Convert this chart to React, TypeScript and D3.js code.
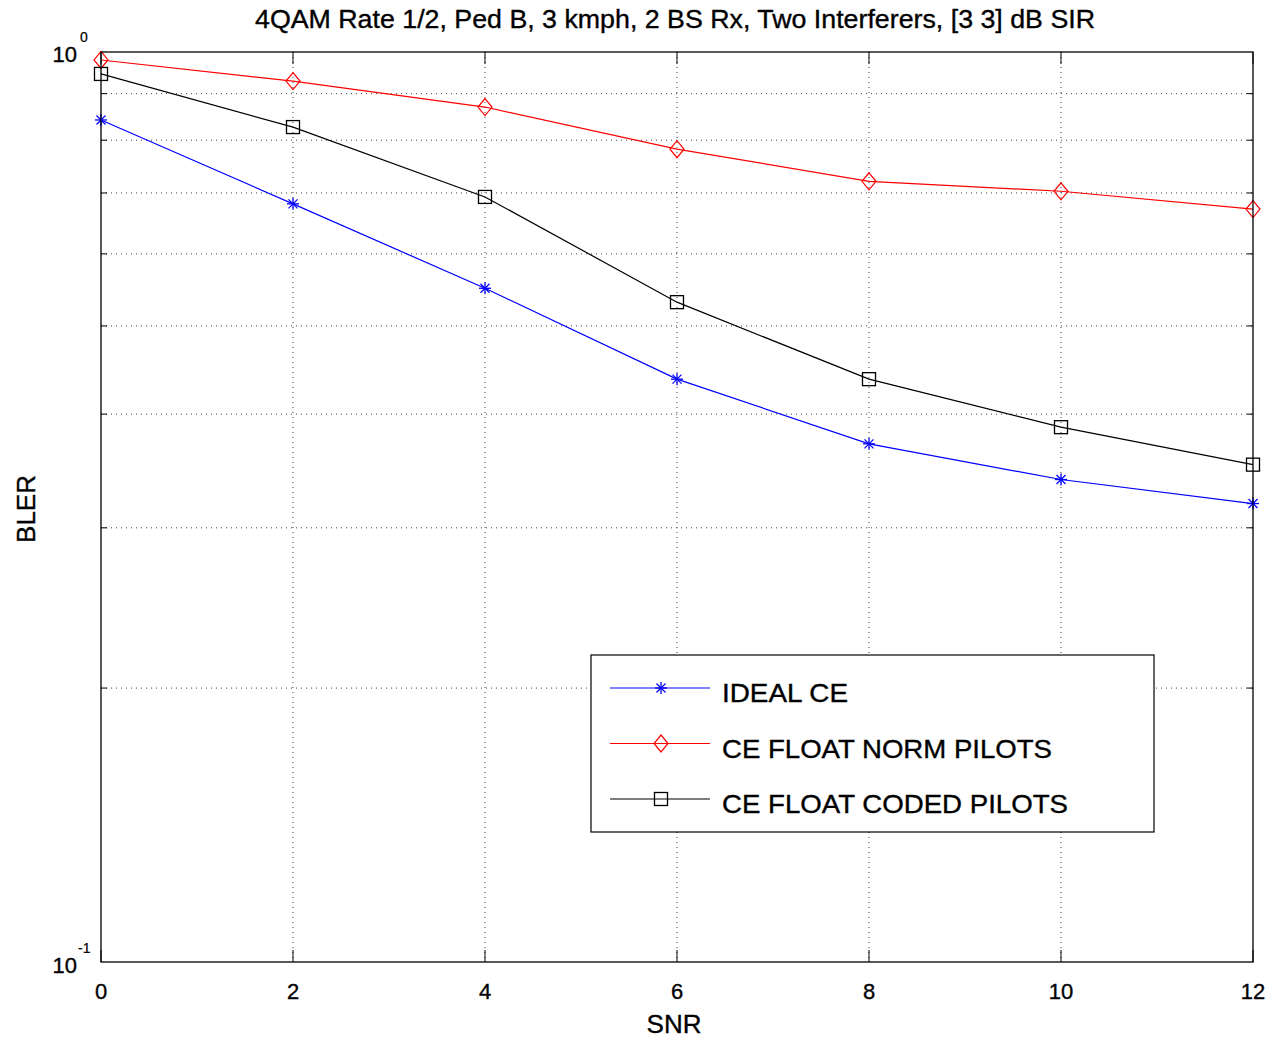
import React from "react";
import * as d3 from "d3";

const snr = [0, 2, 4, 6, 8, 10, 12];
const idealCE = [0.842, 0.681, 0.55, 0.437, 0.371, 0.339, 0.319];
const normPilots = [0.98, 0.929, 0.87, 0.782, 0.721, 0.703, 0.672];
const codedPilots = [0.946, 0.827, 0.693, 0.531, 0.437, 0.387, 0.352];
const xTicks = [0, 2, 4, 6, 8, 10, 12];
const yMinor = [0.2, 0.3, 0.4, 0.5, 0.6, 0.7, 0.8, 0.9];
const seriesNames = ["IDEAL CE", "CE FLOAT NORM PILOTS", "CE FLOAT CODED PILOTS"];
const title = "4QAM Rate 1/2, Ped B, 3 kmph, 2 BS Rx, Two Interferers, [3 3] dB SIR";

const W = 1272, H = 1040;
const L = 101, R = 1253, T = 52, B = 962;
const FONT = "'Liberation Sans', Arial, sans-serif";
const TXT = { fill: "#000", stroke: "#000", strokeWidth: 0.35 };

function Marker({ type, x, y, color }: { type: string; x: number; y: number; color: string }) {
  if (type === "star") {
    const s = 6;
    return (
      <g stroke={color} strokeWidth={1.3}>
        <line x1={x - s} y1={y} x2={x + s} y2={y} />
        <line x1={x} y1={y - s} x2={x} y2={y + s} />
        <line x1={x - s * 0.75} y1={y - s * 0.75} x2={x + s * 0.75} y2={y + s * 0.75} />
        <line x1={x - s * 0.75} y1={y + s * 0.75} x2={x + s * 0.75} y2={y - s * 0.75} />
      </g>
    );
  }
  if (type === "diamond") {
    const sx = 7, sy = 8.5;
    return (
      <path d={`M${x},${y - sy}L${x + sx},${y}L${x},${y + sy}L${x - sx},${y}Z`} fill="none" stroke={color} strokeWidth={1.2} />
    );
  }
  const s = 6.5;
  return <rect x={x - s} y={y - s} width={2 * s} height={2 * s} fill="none" stroke={color} strokeWidth={1.3} />;
}

export default function App() {
  const x = d3.scaleLinear().domain([0, 12]).range([L, R]);
  const y = d3.scaleLog().domain([0.1, 1]).range([B, T]);
  const series = [
    { name: seriesNames[0], values: idealCE, color: "#0000ff", marker: "star", len: 126 },
    { name: seriesNames[1], values: normPilots, color: "#ff0000", marker: "diamond", len: 330 },
    { name: seriesNames[2], values: codedPilots, color: "#000000", marker: "square", len: 346 },
  ];
  const line = d3
    .line<[number, number]>()
    .x((d) => x(d[0]))
    .y((d) => y(d[1]));

  const legX = 591, legY = 655, legW = 563, legH = 177;

  return (
    <svg width={W} height={H} style={{ position: "absolute", left: 0, top: 0, background: "#fff" }} fontFamily={FONT}>
      <rect x={0} y={0} width={W} height={H} fill="#fff" />
      {/* grid */}
      <g stroke="#000" strokeWidth={1} strokeDasharray="1,4" opacity={0.75}>
        {xTicks.slice(1, -1).map((t) => (
          <line key={"gx" + t} x1={x(t)} x2={x(t)} y1={T} y2={B} />
        ))}
        {yMinor.map((t) => (
          <line key={"gy" + t} x1={L} x2={R} y1={y(t)} y2={y(t)} />
        ))}
      </g>
      {/* ticks */}
      <g stroke="#000" strokeWidth={1}>
        {xTicks.map((t) => (
          <g key={"tx" + t}>
            <line x1={x(t)} x2={x(t)} y1={B} y2={B - 12} />
            <line x1={x(t)} x2={x(t)} y1={T} y2={T + 12} />
          </g>
        ))}
        {yMinor.map((t) => (
          <g key={"ty" + t}>
            <line x1={L} x2={L + 6} y1={y(t)} y2={y(t)} />
            <line x1={R} x2={R - 6} y1={y(t)} y2={y(t)} />
          </g>
        ))}
      </g>
      {/* series */}
      {series.map((s) => (
        <g key={s.name}>
          <path
            d={line(snr.map((v, i) => [v, s.values[i]] as [number, number])) || ""}
            fill="none"
            stroke={s.color}
            strokeWidth={1.2}
          />
          {snr.map((v, i) => (
            <Marker key={i} type={s.marker} x={x(v)} y={y(s.values[i])} color={s.color} />
          ))}
        </g>
      ))}
      {/* axes box */}
      <rect x={L} y={T} width={R - L} height={B - T} fill="none" stroke="#000" strokeWidth={1.3} />
      {/* x tick labels */}
      {xTicks.map((t) => (
        <text key={"lx" + t} x={x(t)} y={999} textAnchor="middle" fontSize={22} {...TXT}>
          {t}
        </text>
      ))}
      {/* y tick labels */}
      <text x={77} y={62} textAnchor="end" fontSize={22} {...TXT}>10</text>
      <text x={80} y={42} fontSize={14} {...TXT} strokeWidth={0.2}>0</text>
      <text x={77} y={973} textAnchor="end" fontSize={22} {...TXT}>10</text>
      <text x={78} y={953} fontSize={14} {...TXT} strokeWidth={0.2}>-1</text>
      {/* axis titles */}
      <text x={674} y={1033} textAnchor="middle" fontSize={26} {...TXT}>SNR</text>
      <text transform={`translate(35,509) rotate(-90)`} textAnchor="middle" fontSize={26} {...TXT}>BLER</text>
      <text x={255} y={28} fontSize={25} {...TXT} textLength={840} lengthAdjust="spacingAndGlyphs">{title}</text>
      {/* legend */}
      <g>
        <rect x={legX} y={legY} width={legW} height={legH} fill="#fff" stroke="#000" strokeWidth={1.2} />
        {series.map((s, i) => {
          const ly = 688 + i * 55.5;
          return (
            <g key={"leg" + i}>
              <line x1={610} x2={710} y1={ly} y2={ly} stroke={s.color} strokeWidth={1.2} />
              <Marker type={s.marker} x={661} y={ly} color={s.color} />
              <text x={722} y={ly + 14} fontSize={25} {...TXT} textLength={s.len} lengthAdjust="spacingAndGlyphs">{s.name}</text>
            </g>
          );
        })}
      </g>
    </svg>
  );
}
